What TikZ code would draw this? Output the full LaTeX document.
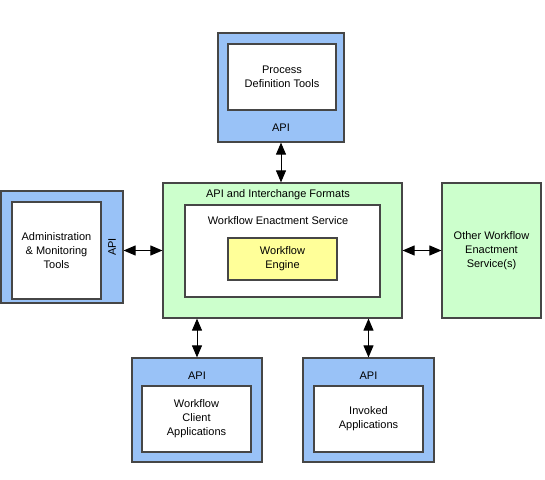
\documentclass[tikz,border=0pt]{standalone}
\usepackage{fontspec}
\setmainfont{Liberation Sans}
\usetikzlibrary{arrows.meta}
\definecolor{apiblue}{RGB}{153,194,247}
\definecolor{servgreen}{RGB}{204,255,204}
\definecolor{engyellow}{RGB}{255,255,153}
\definecolor{edgegray}{RGB}{70,70,70}
\tikzstyle{box} = [rectangle, draw=edgegray, line width=1.2pt, inner sep=0pt, align=center, text centered]
\tikzstyle{apibox} = [box, fill=apiblue]
\tikzstyle{toolbox} = [box, fill=white]
\tikzstyle{servbox} = [box, fill=servgreen]
\tikzstyle{enginebox} = [box, fill=engyellow]
\tikzstyle{label} = [inner sep=0pt, align=center]
\tikzstyle{arrow} = [line width=1pt, <->, >={Triangle[length=12pt,width=10pt]}]

\begin{document}
\begin{tikzpicture}[x=1pt, y=-1pt, font=\fontsize{11}{14}\selectfont]
\useasboundingbox (0,0) rectangle (545,479);

% process definition tools
\node (pdt) [apibox, minimum width=126pt, minimum height=109pt] at (281,87.5) {};
\node (pdtin) [toolbox, minimum width=108pt, minimum height=66pt] at (282,77) {Process\\Definition Tools};
\node (pdtapi) [label] at (281,128) {API};

% main service
\node (main) [servbox, minimum width=239pt, minimum height=135pt] at (282.5,250.5) {};
\node (mainapi) [label] at (278,195) {API and Interchange Formats};
\node (wes) [toolbox, minimum width=195pt, minimum height=92pt] at (282.5,251) {};
\node (weslabel) [label] at (278,221) {Workflow Enactment Service};
\node (engine) [enginebox, minimum width=109pt, minimum height=42pt] at (282.5,259) {Workflow\\Engine};

% administration tools
\node (adm) [apibox, minimum width=122pt, minimum height=112pt] at (62,247) {};
\node (admin) [toolbox, minimum width=89pt, minimum height=97pt] at (56.5,250.5) {Administration\\\& Monitoring\\Tools};
\node (admapi) [label, rotate=90] at (112,247) {API};

% other services
\node (other) [servbox, minimum width=99pt, minimum height=135pt] at (491.5,250.5) {Other Workflow\\Enactment\\Service(s)};

% client applications
\node (wca) [apibox, minimum width=130pt, minimum height=104pt] at (197,410) {};
\node (wcain) [toolbox, minimum width=109pt, minimum height=66pt] at (196.5,419) {Workflow\\Client\\Applications};
\node (wcaapi) [label] at (197,376) {API};

% invoked applications
\node (inv) [apibox, minimum width=131pt, minimum height=104pt] at (368.5,410) {};
\node (invin) [toolbox, minimum width=109pt, minimum height=66pt] at (368.5,419) {Invoked\\Applications};
\node (invapi) [label] at (368.5,376) {API};

\draw [arrow] (pdt.south) -- (pdt.south |- main.north);
\draw [arrow] (main.west) -- (main.west -| adm.east);
\draw [arrow] (main.east) -- (other.west);
\draw [arrow] (wca.north) -- (wca.north |- main.south);
\draw [arrow] (inv.north) -- (inv.north |- main.south);

\end{tikzpicture}
\end{document}
